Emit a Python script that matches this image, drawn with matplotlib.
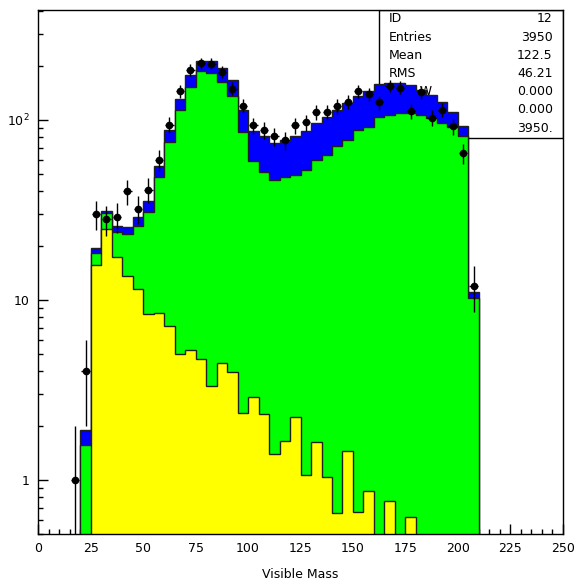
import matplotlib
matplotlib.use("Agg")
import matplotlib.pyplot as plt
import numpy as np
from matplotlib.ticker import LogLocator, FixedLocator, FixedFormatter, NullFormatter, MultipleLocator
from matplotlib.patches import Rectangle

# bins are 5 units wide
bin_width = 5

# total (blue), 20..210
total_start = 20
total_vals = [1.9, 19.4, 31.2, 25.6, 25.3, 28.7, 35.5, 55.6, 87.6, 130, 177, 213, 213,
              193, 167, 114, 86.7, 81.5, 74.8, 77.4, 81.5, 86.2, 96.6, 104, 113.6, 124,
              135, 144, 158, 161, 160, 156, 147, 138, 126, 111, 92.6, 11.1]

# green component, 20..210
green_start = 20
green_vals = [1.56, 18.1, 30.2, 23.8, 23.2, 25.8, 30.9, 48.2, 75.7, 113, 153, 186, 183,
              162, 136, 86, 58.7, 51.6, 46.4, 48, 49.5, 52.7, 59.9, 63.9, 71.1, 77.4,
              88, 91.8, 104, 107, 109, 109, 107, 102, 95.8, 91.8, 80.8, 10.3]

# yellow component, 25..180
yellow_start = 25
yellow_vals = [15.6, 24.7, 17.3, 13.6, 11.5, 8.3, 8.4, 7.2, 5.0, 5.27, 4.7, 3.34, 4.45,
               3.98, 2.34, 2.87, 2.33, 1.39, 1.65, 2.23, 1.06, 1.63, 1.04, 0.65, 1.45,
               0.66, 0.865, 0, 0.76, 0, 0.625]

# data counts, 15..210
data_start = 15
data_vals = [1, 4, 30, 28, 29, 40, 32, 41, 60, 94, 145, 190, 206, 205, 185, 149, 120,
             93, 88, 81, 77, 93, 97, 110, 111, 119, 126, 145, 139, 125, 155, 151, 112,
             142, 103, 114, 92, 65, 12]

stat_labels = ["ID", "Entries", "Mean", "RMS", "UDFLW", "OVFLW", "ALLCHAN"]
stat_values = ["12", "3950", "122.5", "46.21", "0.000", "0.000", "3950."]

x_ticks = [0, 25, 50, 75, 100, 125, 150, 175, 200, 225, 250]


def edges(start, vals):
    return start + bin_width * np.arange(len(vals) + 1)


fig = plt.figure(figsize=(5.78, 5.84), dpi=100)
ax = fig.add_axes([0.0663, 0.0856, 0.9073, 0.8981])
ax.set_yscale("log")

base = 0.01
line_col = "#202020"
ax.stairs(total_vals, edges(total_start, total_vals), baseline=base, fill=True,
          facecolor="#0000ff", edgecolor=line_col, linewidth=1, zorder=2)
ax.stairs(green_vals, edges(green_start, green_vals), baseline=base, fill=True,
          facecolor="#00ff00", edgecolor=line_col, linewidth=1, zorder=2.1)
ax.stairs(yellow_vals, edges(yellow_start, yellow_vals), baseline=base, fill=True,
          facecolor="#ffff00", edgecolor=line_col, linewidth=1, zorder=2.2)

# data points with sqrt(N) errors
data_x = data_start + bin_width * (np.arange(len(data_vals)) + 0.5)
data_y = np.array(data_vals, dtype=float)
err = np.sqrt(data_y)
ax.errorbar(data_x, data_y, yerr=[np.minimum(err, data_y - 1e-3), err], xerr=2.0,
            fmt="o", color="black", markersize=4.5, elinewidth=1, capsize=0, zorder=3)

ax.set_xlim(0, 250)
ax.set_ylim(0.5, 410)

# stats box, sits under the histograms
ax.add_patch(Rectangle((0.65, 0.755), 0.35, 0.245, transform=ax.transAxes,
                       facecolor="white", edgecolor="black", linewidth=1, zorder=1))
for i, (lab, val) in enumerate(zip(stat_labels, stat_values)):
    yy = 0.982 - 0.0347 * i
    ax.text(0.669, yy, lab, transform=ax.transAxes, ha="left", va="center",
            fontsize=9, zorder=1.1)
    ax.text(0.981, yy, val, transform=ax.transAxes, ha="right", va="center",
            fontsize=9, zorder=1.1)

# ticks
ax.xaxis.set_major_locator(FixedLocator(x_ticks))
ax.xaxis.set_minor_locator(MultipleLocator(5))
ax.yaxis.set_major_locator(FixedLocator([1, 10, 100]))
ax.yaxis.set_major_formatter(FixedFormatter(["1", "10", r"$\mathdefault{10^{2}}$"]))
ax.yaxis.set_minor_locator(LogLocator(base=10, subs=np.arange(2, 10)))
ax.yaxis.set_minor_formatter(NullFormatter())
ax.tick_params(which="both", direction="in", top=False, right=False, labelsize=9)
ax.tick_params(which="major", length=7, width=1, pad=6)
ax.tick_params(which="minor", length=3.5, width=1)

for s in ax.spines.values():
    s.set_linewidth(1)
    s.set_zorder(4)

ax.set_xlabel("Visible Mass", fontsize=9, labelpad=9)

fig.savefig("out.png", dpi=100)
